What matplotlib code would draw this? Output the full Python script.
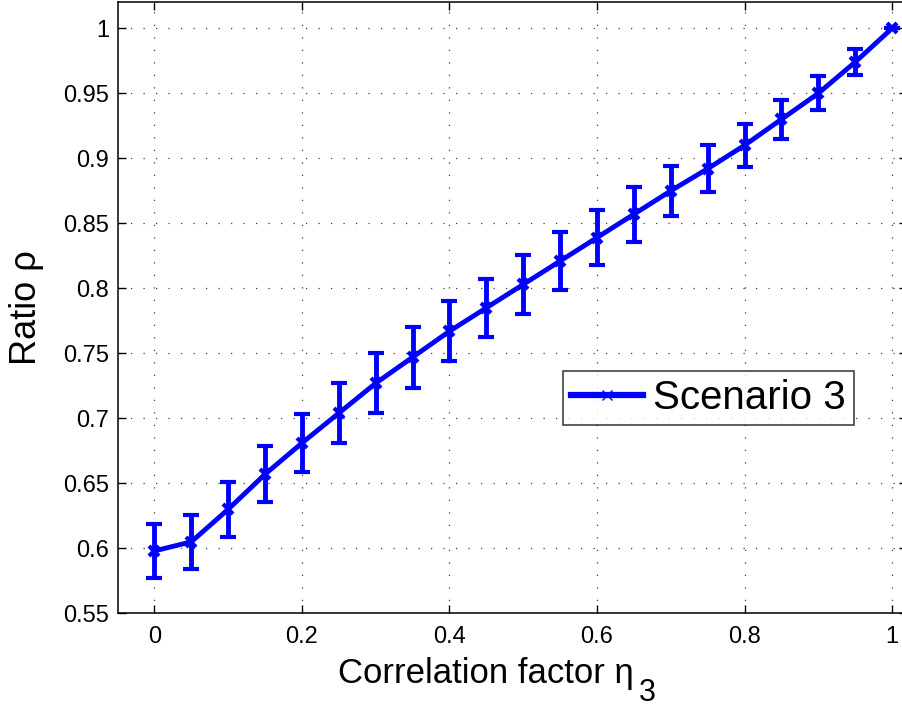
import matplotlib
matplotlib.use("Agg")
import matplotlib.pyplot as plt
from matplotlib.lines import Line2D

plt.rcParams['font.family'] = ['Liberation Sans', 'DejaVu Sans']
plt.rcParams['mathtext.default'] = 'regular'

eta = [0.0, 0.05, 0.1, 0.15, 0.2, 0.25, 0.3, 0.35, 0.4, 0.45, 0.5,
       0.55, 0.6, 0.65, 0.7, 0.75, 0.8, 0.85, 0.9, 0.95, 1.0]
ratio = [0.598, 0.605, 0.630, 0.657, 0.681, 0.704, 0.727, 0.747, 0.767, 0.785, 0.803,
         0.821, 0.839, 0.857, 0.875, 0.892, 0.910, 0.930, 0.950, 0.974, 1.000]
err = [0.021, 0.021, 0.021, 0.0215, 0.022, 0.023, 0.023, 0.0235, 0.023, 0.0225, 0.023,
       0.022, 0.021, 0.021, 0.019, 0.018, 0.0165, 0.015, 0.013, 0.010, 0.0]
xticks = [0, 0.2, 0.4, 0.6, 0.8, 1]
xticklabels = ['0', '0.2', '0.4', '0.6', '0.8', '1']
yticks = [0.55, 0.6, 0.65, 0.7, 0.75, 0.8, 0.85, 0.9, 0.95, 1.0]
yticklabels = ['0.55', '0.6', '0.65', '0.7', '0.75', '0.8', '0.85', '0.9', '0.95', '1']
series_name = 'Scenario 3'
xlabel_main = 'Correlation factor η'
xlabel_sub = '3'
ylabel = 'Ratio ρ'

fig = plt.figure(figsize=(9.02, 7.07), dpi=100)
ax = fig.add_axes([0.1303, 0.1325, 0.875, 0.8642])

ax.errorbar(eta, ratio, yerr=err, color='#0000ff', lw=3.5, elinewidth=3.5,
            capsize=6, capthick=3, marker='x', markersize=7, mew=3, zorder=3)

ax.set_xlim(-0.05, 1.02)
ax.set_ylim(0.55, 1.02)
ax.set_xticks(xticks)
ax.set_xticklabels(xticklabels)
ax.set_yticks(yticks)
ax.set_yticklabels(yticklabels)
ax.tick_params(direction='in', length=6, width=1, labelsize=17,
               top=True, right=True)
ax.tick_params(axis='x', pad=9)
ax.tick_params(axis='y', pad=6)
for s in ax.spines.values():
    s.set_linewidth(1.1)

ax.grid(True, color='0.25', lw=0.9, linestyle=(0, (1, 9)))
ax.set_axisbelow(True)

ax.set_ylabel(ylabel, fontsize=26, labelpad=14)

W, H = fig.bbox.width, fig.bbox.height
xl = fig.text(338 / W, (707 - 683) / H, xlabel_main, fontsize=25,
              va='baseline', ha='left')

proxy = Line2D([], [], color='#0000ff', lw=4.5, marker='x', markersize=7, mew=1)
leg = ax.legend([proxy], [series_name], loc='center left',
                bbox_to_anchor=(0.564, 0.352), fontsize=29, frameon=True,
                fancybox=False, shadow=False, handlelength=1.8,
                borderpad=0.2, handletextpad=0.25, borderaxespad=0)
leg.get_frame().set_edgecolor('black')
leg.get_frame().set_linewidth(1.1)

# subscript drawn as its own text next to the label, as in the original
fig.canvas.draw()
bb = xl.get_window_extent()
fig.text((bb.x1 + 5) / W, (707 - 701) / H, xlabel_sub, fontsize=22,
         va='baseline', ha='left')

fig.savefig('out.png', dpi=100)
